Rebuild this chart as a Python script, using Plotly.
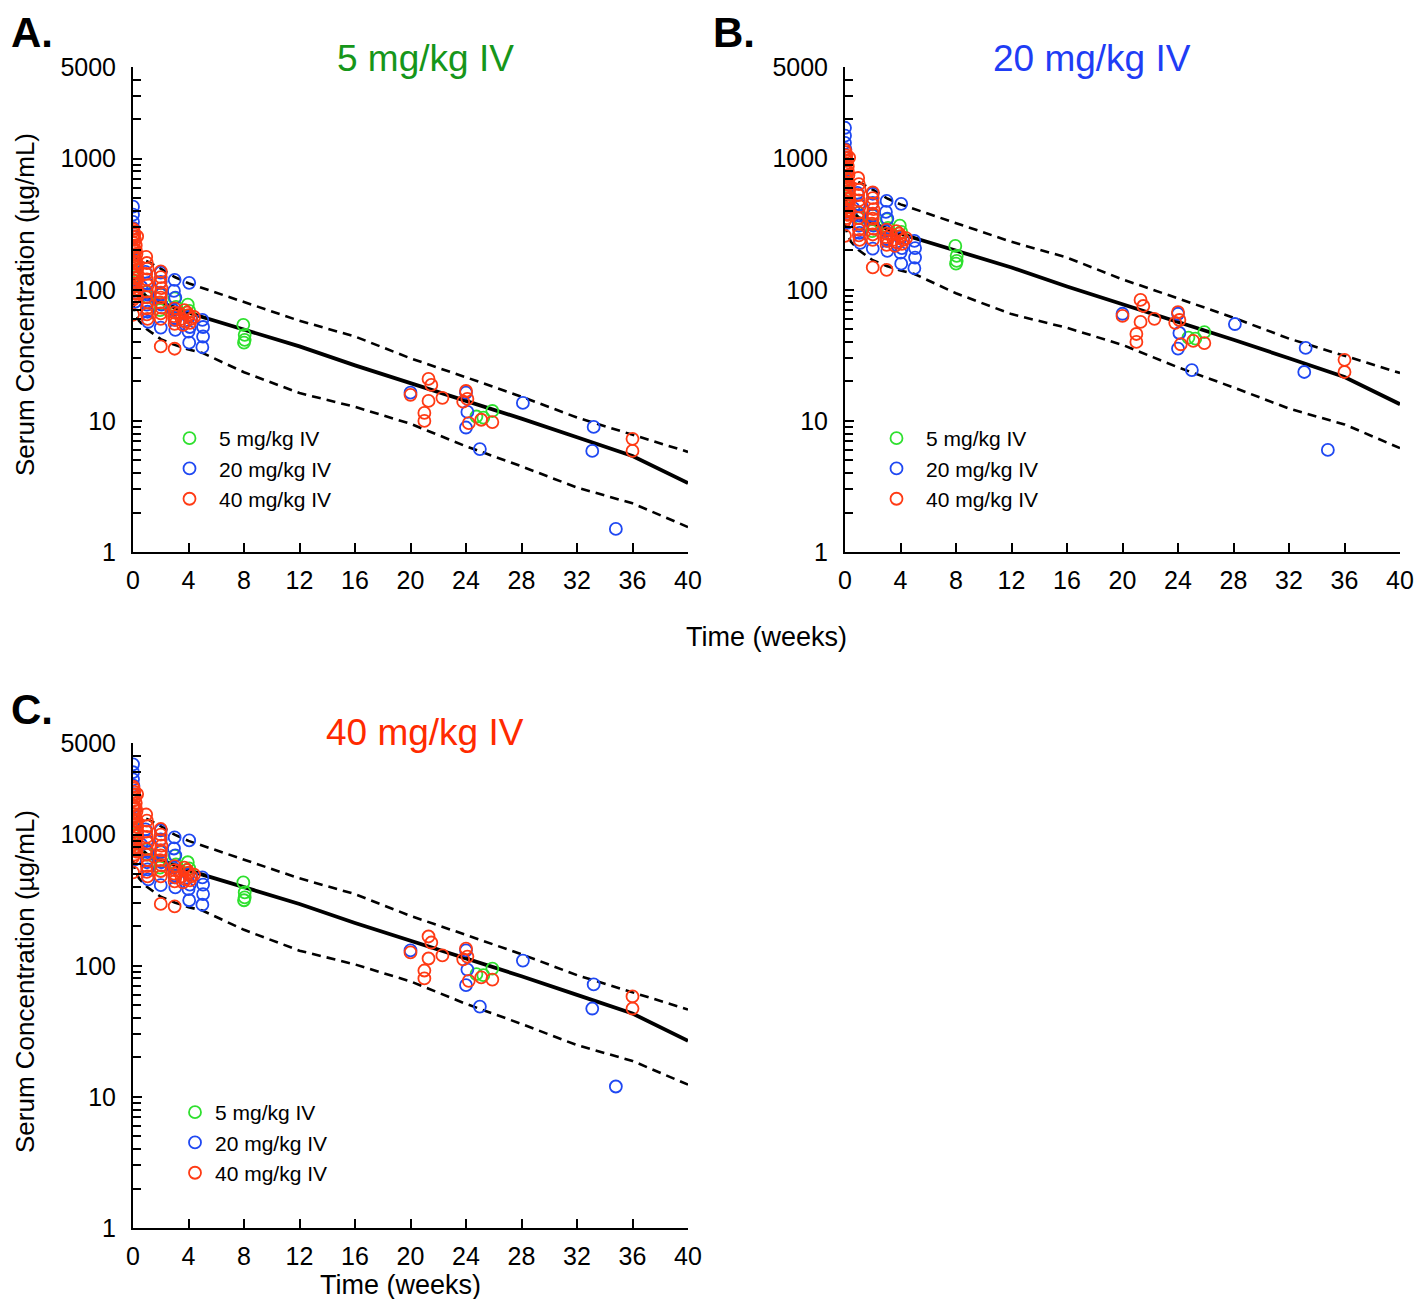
import plotly.graph_objects as go

W, H = 1414, 1299
FONT = "Arial, 'Liberation Sans', sans-serif"

# ---------------- data (concentrations dose-normalised to 5 mg/kg, µg/mL) ----------------
green_t = [0.00, 0.02, 0.05, 0.10, 0.15, 0.95, 1.05, 1.00, 2.00, 2.05, 1.95, 3.00, 3.10,
           3.95, 4.05, 7.95, 8.05, 8.05, 8.00, 24.75, 25.25, 25.90]
green_c = [105, 125, 150, 172, 138, 96, 88, 80, 92, 78, 70, 86, 74,
           77, 69, 54, 45.3, 41.5, 39.5, 10.8, 10.6, 11.9]

blue_t = [0.00, 0.00, 0.00, 0.03, 0.05, 0.05, 0.10, 0.12, 0.15,
          0.60, 0.90, 1.00, 1.05, 1.00, 1.05, 1.10,
          2.00, 2.00, 2.00, 2.05, 2.00,
          3.00, 2.95, 3.05, 2.90, 3.00, 3.00, 3.05,
          4.05, 4.00, 4.10, 4.00, 4.05,
          5.00, 5.05, 5.05, 5.00,
          20.0, 24.0, 24.1, 24.0, 25.0, 28.1, 33.2, 33.1, 34.8]
blue_c = [430, 374, 330, 295, 255, 205, 160, 98, 81,
          105, 137, 112, 92, 77, 68, 57,
          135, 115, 92, 77, 51.5,
          119, 98, 87, 70, 61, 59, 49.5,
          113, 62, 52, 48, 39.5,
          59, 52, 44, 36.5,
          16.4, 16.4, 11.7, 8.9, 6.1, 13.7, 9.0, 5.9, 1.5]

red_t = [0.00, 0.05, 0.10, 0.00, 0.15, 0.05, 0.20, 0.00, 0.10, 0.25, 0.05, 0.15, 0.00, 0.20,
         0.10, 0.30, 0.05, 0.00, 0.15, 0.10, 0.20, 0.00, 0.05, 0.25, 0.10, 0.00, 0.15, 0.00, 0.05,
         0.30, 0.20, 0.25, 0.30, 0.20,
         0.95, 1.00, 1.05, 0.95, 1.00, 1.05, 1.00, 0.95, 1.05, 1.00, 1.00, 1.05,
         2.00, 2.00, 1.95, 2.05, 2.00, 2.00, 1.95, 2.05, 2.00, 2.00, 2.00,
         3.00, 3.00, 2.95, 3.05, 3.00, 3.00,
         3.30, 3.50, 3.70, 3.80, 4.00, 4.20, 4.40, 3.60, 4.10, 3.90,
         20.0, 21.3, 21.5, 21.3, 21.0, 21.0, 22.3, 24.0, 24.1, 23.8, 24.2, 25.1, 25.9, 36.0, 36.0]
red_c = [290, 280, 265, 252, 240, 228, 218, 208, 198, 188, 180, 172, 165, 158,
         150, 143, 136, 130, 123, 117, 111, 105, 99, 93, 88, 84, 95, 64.5, 110,
         255, 200, 160, 125, 100,
         178, 160, 145, 132, 120, 108, 97, 88, 80, 72, 65, 60,
         138, 125, 113, 103, 95, 87, 80, 73, 66, 60, 37,
         72, 67, 63, 59, 55, 35.5,
         66, 60, 70, 57, 64, 60, 62, 54, 56, 67,
         15.8, 20.9, 18.8, 14.2, 11.5, 10.0, 15.0, 16.9, 14.7, 14.0, 9.6, 10.2, 9.8, 7.3, 5.9]

# model prediction: median and 90% prediction interval (5 mg/kg)
model_t = [0, 0.14, 0.43, 1, 2, 3, 4, 5, 8, 12, 16, 20, 24, 28, 32, 36, 40]
median_c = [125, 112, 100, 88, 80, 73, 67, 62, 50, 37, 26.5, 19.5, 14.2, 10.4, 7.5, 5.4, 3.35]
upper_c = [185, 178, 172, 165, 145, 125, 112, 103, 80, 58, 44, 30, 21.5, 15.3, 10.6, 7.8, 5.8]
lower_c = [80, 68, 58, 50, 42, 38, 35, 33, 23.5, 16.3, 12.8, 9.5, 6.4, 4.5, 3.1, 2.35, 1.55]

panel_doses = [5, 20, 40]
panel_titles = ["5 mg/kg IV", "20 mg/kg IV", "40 mg/kg IV"]
panel_letters = ["A.", "B.", "C."]
group_names = ["5 mg/kg IV", "20 mg/kg IV", "40 mg/kg IV"]
x_ticks = [0, 4, 8, 12, 16, 20, 24, 28, 32, 36, 40]
y_ticks = [1, 10, 100, 1000, 5000]

# ---------------- styling ----------------
marker_colors = ["#2ee02e", "#1f48f2", "#ff3a14"]
title_colors = ["#16961a", "#1f3df5", "#ff2a00"]

# panel geometry in pixels: (x0, x1, ytop, ybottom)
panels = [(133, 688, 67, 552), (845, 1400, 67, 552), (133, 688, 743, 1228)]
legend_pos = [(160, 418, 49), (867, 418, 49), (175, 1092, 30)]
title_pos = [(425, 58), (1092, 58), (425, 732)]
letter_pos = [(9, 32), (711, 32), (9, 709)]

fig = go.Figure()

minor_vals = []
for dec in [1, 10, 100, 1000]:
    for m in range(2, 10):
        v = m * dec
        if v < 5000:
            minor_vals.append(v)

groups = [(green_t, green_c), (blue_t, blue_c), (red_t, red_c)]

for i, dose in enumerate(panel_doses):
    f = dose / 5.0
    xa = "x" if i == 0 else f"x{i+1}"
    ya = "y" if i == 0 else f"y{i+1}"
    lg = "legend" if i == 0 else f"legend{i+1}"
    # model lines
    for vals, width, dash in [(upper_c, 2.6, "9px,6px"), (lower_c, 2.6, "9px,6px"),
                              (median_c, 3.8, "solid")]:
        fig.add_trace(go.Scatter(
            x=model_t, y=[v * f for v in vals], mode="lines",
            line=dict(color="black", width=width, dash=dash),
            xaxis=xa, yaxis=ya, showlegend=False, hoverinfo="skip"))
    # observations
    for g, (tt, cc) in enumerate(groups):
        fig.add_trace(go.Scatter(
            x=tt, y=[v * f for v in cc], mode="markers",
            marker=dict(symbol="circle-open", size=12, color=marker_colors[g],
                        line=dict(width=1.8, color=marker_colors[g])),
            name=group_names[g], xaxis=xa, yaxis=ya, legend=lg, showlegend=True))

layout = dict(
    width=W, height=H, margin=dict(l=0, r=0, t=0, b=0, autoexpand=False),
    paper_bgcolor="white", plot_bgcolor="white",
    font=dict(family=FONT, color="black"),
    showlegend=True,
)

annotations = []
for i, (x0, x1, yt, yb) in enumerate(panels):
    sfx = "" if i == 0 else str(i + 1)
    layout["xaxis" + sfx] = dict(
        domain=[x0 / W, x1 / W], range=[0, 40], anchor="y" + sfx,
        tickvals=x_ticks, ticktext=[str(v) for v in x_ticks],
        ticks="inside", ticklen=9, tickwidth=1.5, tickcolor="black",
        showline=True, linecolor="black", linewidth=2,
        showgrid=False, zeroline=False, ticklabelstandoff=5,
        tickfont=dict(size=25, family=FONT, color="black"))
    layout["yaxis" + sfx] = dict(
        domain=[1 - yb / H, 1 - yt / H], type="log", range=[0, 3.69897],
        anchor="x" + sfx,
        tickvals=y_ticks, ticktext=[str(v) for v in y_ticks],
        ticks="inside", ticklen=9, tickwidth=1.5, tickcolor="black",
        showline=True, linecolor="black", linewidth=2,
        showgrid=False, zeroline=False, ticklabelstandoff=10,
        minor=dict(tickvals=minor_vals, ticks="inside", ticklen=8,
                   tickwidth=1.5, tickcolor="black"),
        tickfont=dict(size=25, family=FONT, color="black"))
    lx, ly, iw = legend_pos[i]
    layout["legend" if i == 0 else f"legend{i+1}"] = dict(
        x=lx / W, y=1 - ly / H, xanchor="left", yanchor="top",
        bgcolor="rgba(0,0,0,0)", borderwidth=0, itemwidth=iw,
        font=dict(size=21, family=FONT, color="black"))
    tx, ty = title_pos[i]
    annotations.append(dict(
        text=panel_titles[i], x=tx / W, y=1 - ty / H, xref="paper", yref="paper",
        xanchor="center", yanchor="middle", showarrow=False,
        font=dict(size=37, family=FONT, color=title_colors[i])))
    lx2, ly2 = letter_pos[i]
    annotations.append(dict(
        text="<b>" + panel_letters[i] + "</b>", x=lx2 / W, y=1 - ly2 / H,
        xref="paper", yref="paper", xanchor="left", yanchor="middle",
        showarrow=False, font=dict(size=42, family=FONT, color="black")))

# y-axis titles (panels A and C)
for yc in [305, 982]:
    annotations.append(dict(
        text="Serum Concentration (µg/mL)", x=25 / W, y=1 - yc / H,
        xref="paper", yref="paper", xanchor="center", yanchor="middle",
        textangle=-90, showarrow=False,
        font=dict(size=26, family=FONT, color="black")))
# x-axis titles
for xc, yc in [(766, 637), (400, 1285)]:
    annotations.append(dict(
        text="Time (weeks)", x=xc / W, y=1 - yc / H, xref="paper", yref="paper",
        xanchor="center", yanchor="middle", showarrow=False,
        font=dict(size=27, family=FONT, color="black")))

layout["annotations"] = annotations
fig.update_layout(**layout)
fig.write_html("out.html", config={"displayModeBar": False},
               post_script="document.body.style.margin='0px';"
                           "document.body.style.overflow='hidden';")
